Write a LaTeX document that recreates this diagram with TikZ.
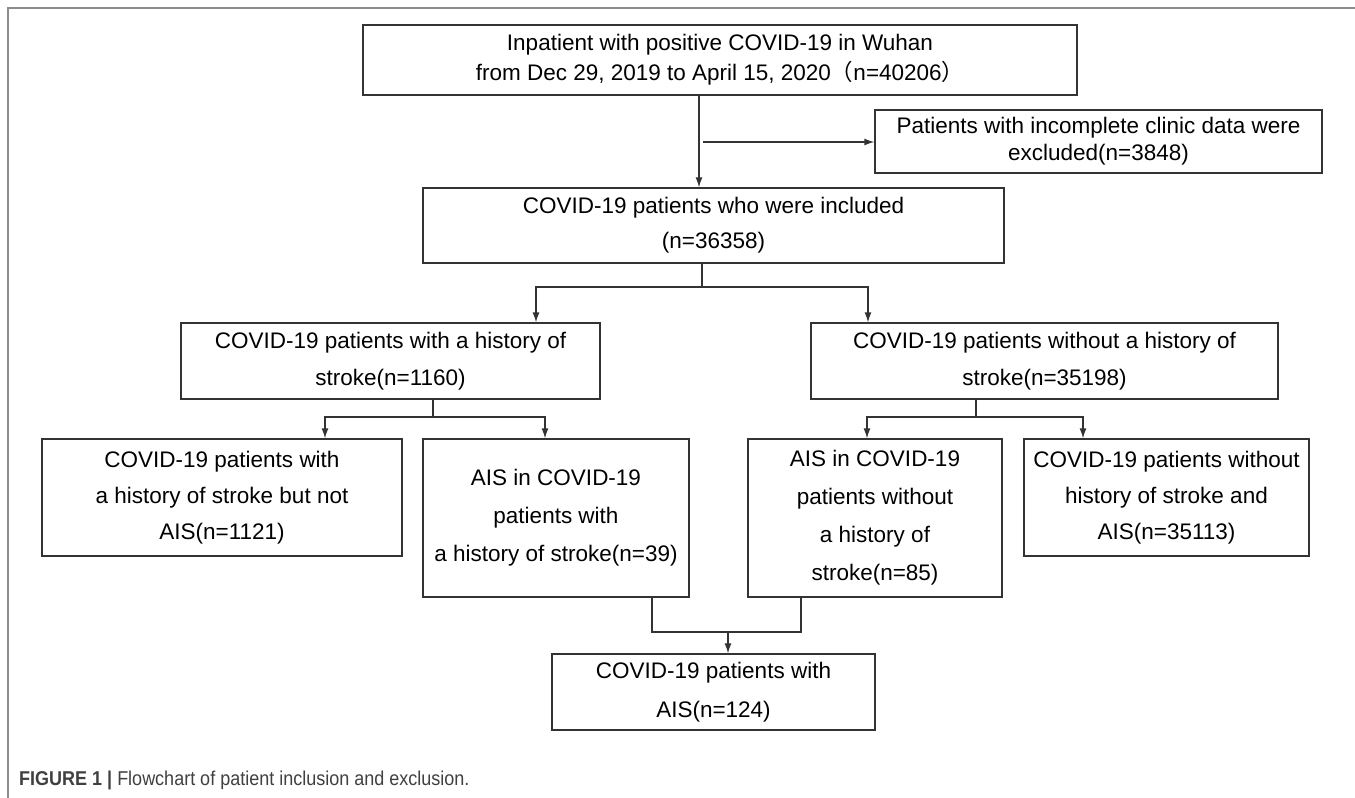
\documentclass[tikz,border=0pt]{standalone}
\usepackage{fontspec}
\setmainfont{Liberation Sans}
\newfontfamily\cjk{Noto Sans CJK SC}
\newfontfamily\capfont[FakeStretch=0.9]{Liberation Sans}
\usetikzlibrary{positioning, calc, arrows.meta}

\begin{document}
\begin{tikzpicture}[x=1pt, y=-1pt, >={Latex[length=10pt,width=7pt]}]
        % Define block styles
        \tikzstyle{block} = [rectangle, draw=black!80, line width=1.3pt, inner sep=0pt, align=center, font=\fontsize{22.5}{37}\selectfont]
        \tikzstyle{line} = [draw=black!80, line width=1.3pt]

        \useasboundingbox (0,0) rectangle (1355,798);
        \draw [black!45, line width=1.5pt] (1355,8) -- (8,8) -- (8,798);

        % Place main nodes
        \node [block, minimum width=714pt, minimum height=70pt, font=\fontsize{22.5}{30}\selectfont] (wuhan) at (720,60) {Inpatient with positive COVID-19 in Wuhan\\from Dec 29, 2019 to April 15, 2020{\cjk（}n=40206{\cjk）}};
        \node [block, minimum width=447pt, minimum height=63pt, font=\fontsize{22.5}{27}\selectfont] (excl) at (1098.5,141.5) {Patients with incomplete clinic data were\\excluded(n=3848)};
        \node [block, minimum width=581pt, minimum height=75pt, font=\fontsize{22.5}{35}\selectfont] (incl) at (713.5,225.5) {COVID-19 patients who were included\\(n=36358)};

        % Place stroke history nodes
        \node [block, minimum width=419pt, minimum height=76pt] (hist) at (390.5,361) {COVID-19 patients with a history of\\stroke(n=1160)};
        \node [block, minimum width=467pt, minimum height=76pt] (nohist) at (1044.5,361) {COVID-19 patients without a history of\\stroke(n=35198)};

        % Place AIS nodes
        \node [block, minimum width=360pt, minimum height=117pt, font=\fontsize{22.5}{36}\selectfont] (histnot) at (222,497.5) {COVID-19 patients with\\a history of stroke but not\\AIS(n=1121)};
        \node [block, minimum width=266pt, minimum height=158pt, font=\fontsize{22.5}{38}\selectfont] (aishist) at (556,518) {AIS in COVID-19\\patients with\\a history of stroke(n=39)};
        \node [block, minimum width=254pt, minimum height=158pt, font=\fontsize{22.5}{38}\selectfont] (aisno) at (875,518) {AIS in COVID-19\\patients without\\a history of\\stroke(n=85)};
        \node [block, minimum width=285pt, minimum height=117pt, font=\fontsize{22.5}{36}\selectfont] (nohistnot) at (1166.5,497.5) {COVID-19 patients without\\history of stroke and\\AIS(n=35113)};
        \node [block, minimum width=323pt, minimum height=76pt, font=\fontsize{22.5}{39}\selectfont] (ais) at (713.5,692) {COVID-19 patients with\\AIS(n=124)};

        % Branch points
        \coordinate (split) at (699,142);
        \coordinate (fork1) at (702,287);
        \coordinate (fork2) at (433,417);
        \coordinate (fork3) at (976,417);
        \coordinate (join) at (728,632);

        % Draw connections as arrows
        \draw [line, ->] (wuhan.south -| split) -- (incl.north -| split);
        \draw [line, ->] ([xshift=4pt]split) -- (excl.west |- split);

        \draw [line] (incl.south -| fork1) -- (fork1);
        \draw [line, ->] (fork1) -| ([xshift=145.5pt]hist.north);
        \draw [line, ->] (fork1) -| ([xshift=-176.5pt]nohist.north);

        \draw [line] (hist.south -| fork2) -- (fork2);
        \draw [line, ->] (fork2) -| ([xshift=103pt]histnot.north);
        \draw [line, ->] (fork2) -| ([xshift=-11pt]aishist.north);

        \draw [line] (nohist.south -| fork3) -- (fork3);
        \draw [line, ->] (fork3) -| ([xshift=-8pt]aisno.north);
        \draw [line, ->] (fork3) -| ([xshift=-83.5pt]nohistnot.north);

        \draw [line] ([xshift=96pt]aishist.south) |- (join) -| ([xshift=-74pt]aisno.south);
        \draw [line, ->] (join) -- (ais.north -| join);

        % Caption
        \node [anchor=west, inner sep=0pt, text=black!75, font=\capfont\fontsize{20}{24}\selectfont] (caption) at (19,780) {\textbf{FIGURE 1 |} Flowchart of patient inclusion and exclusion.};

    \end{tikzpicture}
\end{document}
